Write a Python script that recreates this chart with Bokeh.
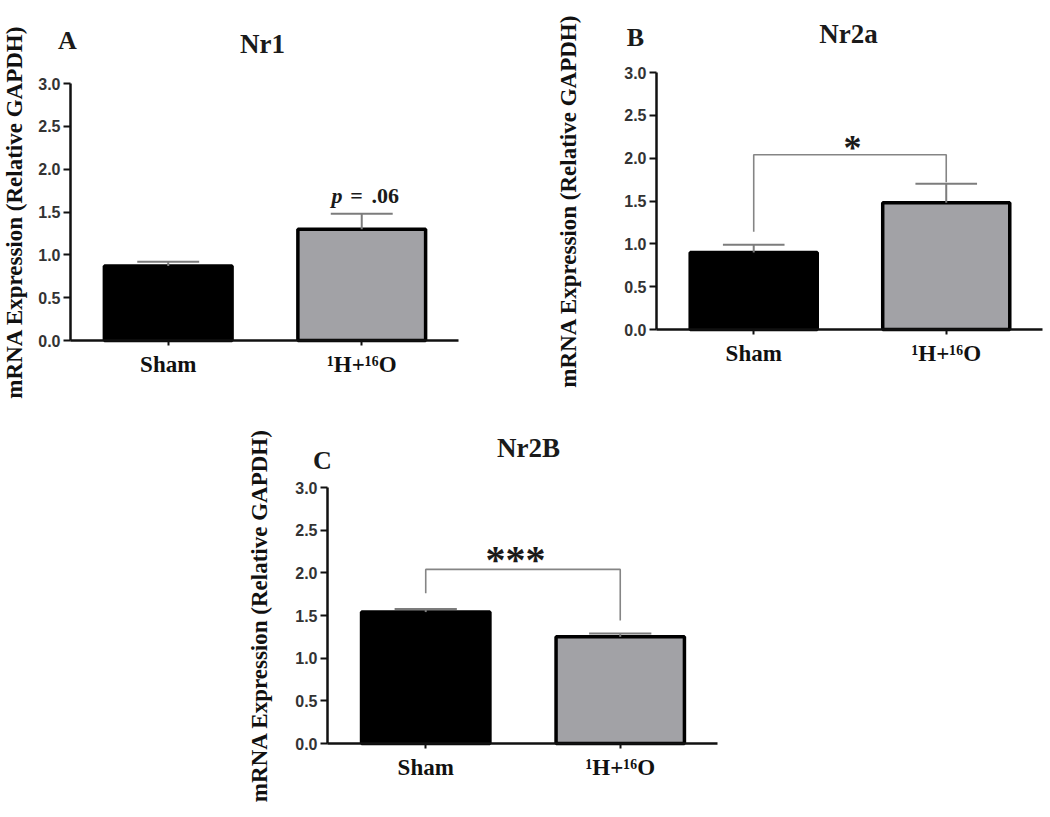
from bokeh.plotting import figure
from bokeh.models import (ColumnDataSource, FixedTicker, Label, Spacer,
                          PrintfTickFormatter, Range1d)
from bokeh.layouts import column, row
from bokeh.embed import file_html
from bokeh.resources import INLINE

# ---------------- data ----------------
categories = ["Sham", "\u00b9H+\u00b9\u2076O"]
cat_pos = [1, 2]
y_ticks = [0.0, 0.5, 1.0, 1.5, 2.0, 2.5, 3.0]

nr1_mean = [0.87, 1.30]
nr1_sem = [0.05, 0.18]

nr2a_mean = [0.90, 1.48]
nr2a_sem = [0.09, 0.22]

nr2b_mean = [1.54, 1.25]
nr2b_sem = [0.035, 0.04]

# significance brackets: [bar y, left-leg bottom, right-leg bottom]
nr2a_bracket = [2.04, 1.14, 1.72]
nr2b_bracket = [2.04, 1.76, 1.44]

bar_colors = ["#000000", "#a2a2a6"]

SERIF = "Liberation Serif"
SANS = "Liberation Sans"
X_LO, X_HI = 0.495, 2.5   # extent of the drawn x axis
Y_LO, Y_HI = 0.0, 3.0     # extent of the drawn y axis


class Panel:
    """Figure whose frame fills the whole canvas; axes are fixed inside."""

    def __init__(self, fig_left, fig_top, fig_w, fig_h,
                 axis_left, axis_right, y0_px, y3_px, label_standoff):
        self.sx = (axis_right - axis_left) / (X_HI - X_LO)
        self.sy = (y0_px - y3_px) / (Y_HI - Y_LO)
        self.fig_left, self.fig_top = fig_left, fig_top
        self.fig_h = fig_h
        x0 = X_LO - (axis_left - fig_left) / self.sx
        y0 = Y_LO - (fig_top + fig_h - y0_px) / self.sy
        self.x0, self.y0 = x0, y0
        p = figure(width=fig_w, height=fig_h, output_backend="svg",
                   toolbar_location=None, title=None,
                   x_range=Range1d(x0, x0 + fig_w / self.sx),
                   y_range=Range1d(y0, y0 + fig_h / self.sy),
                   min_border=0)
        p.outline_line_color = None
        p.xgrid.visible = False
        p.ygrid.visible = False
        p.background_fill_color = "white"
        p.border_fill_color = "white"

        ya = p.yaxis[0]
        ya.fixed_location = X_LO
        ya.bounds = (Y_LO, Y_HI)
        ya.ticker = FixedTicker(ticks=y_ticks)
        ya.formatter = PrintfTickFormatter(format="%.1f")
        ya.minor_tick_line_color = None
        ya.major_tick_out = 7
        ya.major_tick_in = 0
        ya.major_tick_line_width = 2
        ya.major_tick_line_color = "#111111"
        ya.axis_line_width = 2.5
        ya.axis_line_color = "#111111"
        ya.major_label_text_font = SANS
        ya.major_label_text_font_style = "bold"
        ya.major_label_text_font_size = "16px"
        ya.major_label_text_color = "#333333"
        ya.major_label_standoff = 3
        ya.axis_label = "mRNA Expression (Relative GAPDH)"
        ya.axis_label_text_font = SERIF
        ya.axis_label_text_font_style = "bold"
        ya.axis_label_text_font_size = "23px"
        ya.axis_label_text_color = "#111111"
        ya.axis_label_standoff = label_standoff

        xa = p.xaxis[0]
        xa.fixed_location = Y_LO
        xa.bounds = (X_LO, X_HI)
        xa.ticker = FixedTicker(ticks=cat_pos)
        xa.major_label_overrides = {c: t for c, t in zip(cat_pos, categories)}
        xa.minor_tick_line_color = None
        xa.major_tick_out = 5
        xa.major_tick_in = 0
        xa.major_tick_line_width = 2
        xa.major_tick_line_color = "#111111"
        xa.axis_line_width = 2.5
        xa.axis_line_color = "#111111"
        xa.major_label_text_font = SERIF
        xa.major_label_text_font_style = "bold"
        xa.major_label_text_font_size = "23px"
        xa.major_label_text_color = "#111111"
        xa.major_label_standoff = 6
        self.p = p

    def bars(self, mean, sem):
        src = ColumnDataSource(dict(x=cat_pos, top=mean, color=bar_colors,
                                    up=[m + s for m, s in zip(mean, sem)],
                                    cl=[x - 0.16 for x in cat_pos],
                                    cr=[x + 0.16 for x in cat_pos]))
        self.p.vbar(x="x", top="top", bottom=0, width=0.66, source=src,
                    fill_color="color", line_color="black", line_width=3.5)
        self.p.segment(x0="x", y0="top", x1="x", y1="up", source=src,
                       line_color="#7c7c7c", line_width=2)
        self.p.segment(x0="cl", y0="up", x1="cr", y1="up", source=src,
                       line_color="#7c7c7c", line_width=2)

    def bracket(self, br):
        yb, yl, yr = br
        self.p.line(x=[cat_pos[0], cat_pos[0], cat_pos[1], cat_pos[1]],
                    y=[yl, yb, yb, yr], line_color="#858585", line_width=1.6)

    def text(self, px, py, text, size, style="bold", align="center",
             baseline="middle", color="#1a1a1a"):
        # px, py: position in page pixels
        x = self.x0 + (px - self.fig_left) / self.sx
        y = self.y0 + (self.fig_top + self.fig_h - py) / self.sy
        self.p.add_layout(Label(x=x, y=y, text=text, text_font=SERIF,
                                text_font_size=size, text_font_style=style,
                                text_align=align, text_baseline=baseline,
                                text_color=color))


# Panel A
A = Panel(0, 0, 555, 405, 70, 458, 340, 83, 8)
A.bars(nr1_mean, nr1_sem)
A.text(67, 40, "A", "26px")
A.text(262, 43, "Nr1", "27px")
A.text(342, 195, "p", "22px", style="bold italic", align="right",
       baseline="alphabetic")
A.text(356, 195, "=", "22px", baseline="alphabetic")
A.text(371, 195, ".06", "22px", align="left", baseline="alphabetic")

# Panel B
B = Panel(555, 0, 493, 405, 656, 1042, 329, 72, 40)
B.bars(nr2a_mean, nr2a_sem)
B.bracket(nr2a_bracket)
B.text(635, 37, "B", "26px")
B.text(848, 33, "Nr2a", "27px")
B.text(852, 147, "*", "36px", baseline="alphabetic")

# Panel C
C = Panel(240, 405, 500, 410, 327, 717, 743, 487, 20)
C.bars(nr2b_mean, nr2b_sem)
C.bracket(nr2b_bracket)
C.text(322, 460, "C", "26px")
C.text(528, 447, "Nr2B", "27px")
C.text(515, 559, "***", "40px", baseline="alphabetic")

layout = column(row(A.p, B.p), row(Spacer(width=240, height=410), C.p))

open("out.html", "w").write(file_html(layout, INLINE))
